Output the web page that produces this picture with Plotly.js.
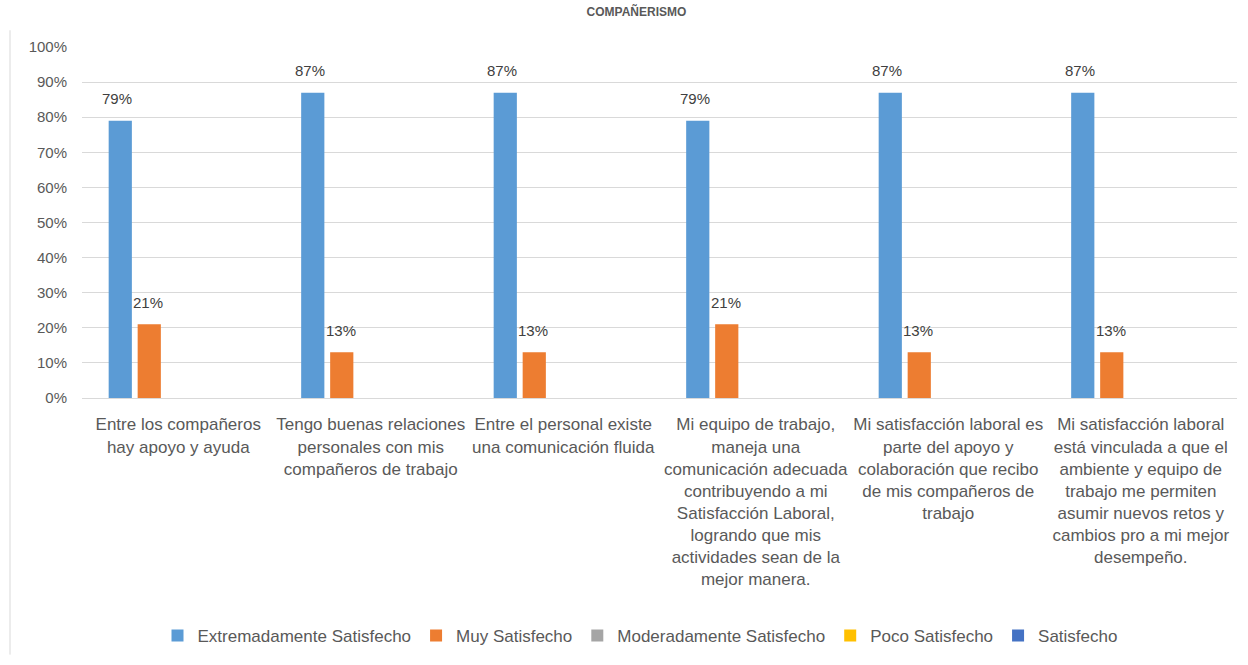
<!DOCTYPE html>
<html>
<head>
<meta charset="utf-8">
<script src="https://cdn.plot.ly/plotly-3.0.1.min.js"></script>
<style>html,body{margin:0;padding:0;background:#fff;overflow:hidden;}#chart{width:1248px;height:665px;}</style>
</head>
<body>
<div id="chart"></div>
<script>
const categories = [
  "Entre los compañeros<br>hay apoyo y ayuda",
  "Tengo buenas relaciones<br>personales con mis<br>compañeros de trabajo",
  "Entre el personal existe<br>una comunicación fluida",
  "Mi equipo de trabajo,<br>maneja una<br>comunicación adecuada<br>contribuyendo a mi<br>Satisfacción Laboral,<br>logrando que mis<br>actividades sean de la<br>mejor manera.",
  "Mi satisfacción laboral es<br>parte del apoyo y<br>colaboración que recibo<br>de mis compañeros de<br>trabajo",
  "Mi satisfacción laboral<br>está vinculada a que el<br>ambiente y equipo de<br>trabajo me permiten<br>asumir nuevos retos y<br>cambios pro a mi mejor<br>desempeño."
];
const seriesNames = ["Extremadamente Satisfecho", "Muy Satisfecho", "Moderadamente Satisfecho", "Poco Satisfecho", "Satisfecho"];
const extremadamente = [0.79, 0.87, 0.87, 0.79, 0.87, 0.87];
const muy = [0.21, 0.13, 0.13, 0.21, 0.13, 0.13];
const moderadamente = [null, null, null, null, null, null];
const poco = [null, null, null, null, null, null];
const satisfecho = [null, null, null, null, null, null];
const titleText = "COMPAÑERISMO";

const colors = ["#5B9BD5", "#ED7D31", "#A5A5A5", "#FFC000", "#4472C4"];
const values = [extremadamente, muy, moderadamente, poco, satisfecho];
const FONT = "'Liberation Sans', Arial, sans-serif";

const traces = values.map((v, i) => ({
  type: 'bar',
  name: seriesNames[i],
  x: categories,
  y: v,
  marker: {color: colors[i]},
  hoverinfo: 'none'
}));

// data labels for the two series with values
const labelShift = [-61, -30];
const annotations = [];
[extremadamente, muy].forEach((arr, s) => {
  arr.forEach((val, j) => {
    annotations.push({
      xref: 'x', yref: 'y',
      x: categories[j], y: val,
      text: Math.round(val * 100) + '%',
      showarrow: false,
      xanchor: 'center', yanchor: 'middle',
      xshift: labelShift[s], yshift: 22,
      font: {family: FONT, size: 15, color: '#404040'}
    });
  });
});

const ml = 82, mr = 11, mt = 47, mb = 261;
const pw = 1248 - ml - mr;

const layout = {
  width: 1248, height: 665,
  margin: {l: ml, r: mr, t: mt, b: mb},
  paper_bgcolor: '#fff', plot_bgcolor: '#fff',
  barmode: 'group',
  bargap: 0.247,
  bargroupgap: 0.2,
  title: {text: '<b>' + titleText + '</b>', x: 0.51, xanchor: 'center', y: 0.988, yanchor: 'top', yref: 'container',
          font: {family: FONT, size: 12, color: '#595959'}},
  font: {family: FONT, size: 15, color: '#595959'},
  xaxis: {
    type: 'category',
    showgrid: false,
    showline: true, linecolor: '#d9d9d9', linewidth: 1,
    ticks: '', tickangle: 0,
    ticklabelstandoff: 11,
    tickfont: {family: FONT, size: 17, color: '#595959'},
    automargin: false
  },
  yaxis: {
    range: [0, 1],
    dtick: 0.1,
    tickformat: '.0%',
    showgrid: true, gridcolor: '#d9d9d9', gridwidth: 1,
    zeroline: false, showline: false,
    ticks: '',
    ticklabelstandoff: 14,
    tickfont: {family: FONT, size: 15, color: '#595959'},
    automargin: false
  },
  legend: {
    orientation: 'h',
    x: (640 - ml) / pw, xanchor: 'center',
    y: (404 - 646) / 357, yanchor: 'middle',
    font: {family: FONT, size: 17, color: '#595959'},
    itemwidth: 30,
    itemclick: false
  },
  annotations: annotations,
  shapes: [{
    type: 'line', xref: 'paper', yref: 'paper',
    x0: (10 - ml) / pw, x1: (10 - ml) / pw,
    y0: (404 - 30) / 357, y1: -(665 - 404) / 357,
    line: {color: '#d9d9d9', width: 1}
  }],
  showlegend: true
};

Plotly.newPlot('chart', traces, layout, {staticPlot: true, displayModeBar: false});
</script>
</body>
</html>
